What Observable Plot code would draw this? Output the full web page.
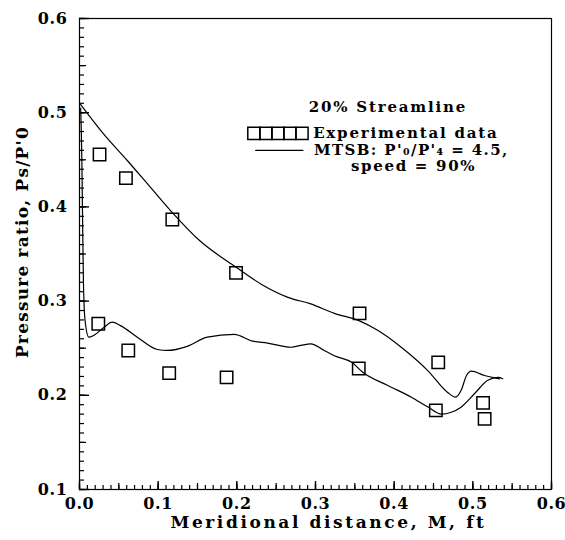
<!DOCTYPE html>
<html>
<head>
<meta charset="utf-8">
<script src="https://cdn.jsdelivr.net/npm/d3@7"></script>
<script src="https://cdn.jsdelivr.net/npm/@observablehq/plot@0.6"></script>
<style>
  html, body { margin: 0; padding: 0; background: #fff; }
  svg text { font-family: "DejaVu Serif", serif; font-weight: bold; }
</style>
</head>
<body>
<div id="chart"></div>
<script>
// Experimental data (squares)
const expX = [0.0255, 0.059, 0.118, 0.199, 0.356, 0.456, 0.513,
              0.0239, 0.062, 0.114, 0.187, 0.355, 0.453, 0.515];
const expY = [0.4556, 0.4305, 0.3866, 0.330, 0.287, 0.235, 0.192,
              0.276, 0.2476, 0.2235, 0.219, 0.2285, 0.184, 0.175];

// MTSB computed curve: upper branch
const upX = [0.001, 0.03, 0.061, 0.09, 0.118, 0.153, 0.199, 0.231, 0.265, 0.294, 0.324, 0.356,
             0.379, 0.409, 0.443, 0.468, 0.478, 0.485, 0.492, 0.498, 0.515, 0.534];
const upY = [0.509, 0.478, 0.449, 0.421, 0.394, 0.364, 0.336, 0.318, 0.304, 0.297, 0.287, 0.279,
             0.269, 0.251, 0.226, 0.203, 0.198, 0.205, 0.221, 0.2256, 0.221, 0.2175];

// MTSB computed curve: lower branch
const loX = [0.0015, 0.003, 0.004, 0.005, 0.007, 0.0118, 0.018, 0.031, 0.0416, 0.052, 0.0735, 0.099,
             0.1116, 0.137, 0.1626, 0.1966, 0.220, 0.239, 0.269, 0.2815, 0.294, 0.311, 0.324, 0.346,
             0.360, 0.392, 0.422, 0.443, 0.460, 0.4726, 0.485, 0.502, 0.519, 0.532, 0.538];
const loY = [0.505, 0.45, 0.38, 0.32, 0.28, 0.2617, 0.2635, 0.272, 0.2776, 0.274, 0.2617, 0.2486,
             0.2476, 0.252, 0.2617, 0.2646, 0.2575, 0.2554, 0.251, 0.253, 0.2546, 0.2476, 0.242, 0.235,
             0.2245, 0.2104, 0.198, 0.1875, 0.180, 0.182, 0.1874, 0.2016, 0.216, 0.219, 0.2175];

// Axis ticks and labels
const xMajor = [0, 0.1, 0.2, 0.3, 0.4, 0.5, 0.6];
const yMajor = [0.1, 0.2, 0.3, 0.4, 0.5, 0.6];
const xMinor = d3.range(0, 61).map(i => i / 100);
const yMinor = d3.range(10, 61).map(i => i / 100);
const xMid = d3.range(0, 13).map(i => i * 0.05);
const yMid = d3.range(2, 13).map(i => i * 0.05);
const xTitle = "Meridional distance, M, ft";
const yTitle = "Pressure ratio, Ps/P'0";

// Legend texts
const legendTitle = "20% Streamline";
const legendExp = "Experimental data";
const legendModel1 = "MTSB: P'\u2080/P'\u2084 = 4.5,";
const legendModel2 = "speed = 90%";
const legendSquaresX = [0.2217, 0.237, 0.2522, 0.2675, 0.2828];

const exp = expX.map((x, i) => ({x, y: expY[i]}));
const up = upX.map((x, i) => ({x, y: upY[i]}));
const lo = loX.map((x, i) => ({x, y: loY[i]}));

const fmt = d3.format(".1f");

const W = 565, H = 540, ML = 79, MR = 14, MT = 18, MB = 51;
const legendFont = {fontSize: 15, fontWeight: "bold"};

const chart = Plot.plot({
  width: W,
  height: H,
  marginLeft: ML,
  marginRight: MR,
  marginTop: MT,
  marginBottom: MB,
  style: {fontFamily: "DejaVu Serif", fontWeight: "bold", fontSize: "16px", color: "#000", background: "#fff"},
  x: {domain: [0, 0.6]},
  y: {domain: [0.1, 0.6]},
  marks: [
    Plot.frame({stroke: "#000", strokeWidth: 1.2}),
    // inward ticks (negative tick size points into the frame)
    Plot.axisX(xMinor, {tickSize: -4, text: null, label: null, strokeWidth: 1.2}),
    Plot.axisX(xMid, {tickSize: -6, text: null, label: null, strokeWidth: 1.2}),
    Plot.axisX(xMajor, {tickSize: -8, tickPadding: 16, tickFormat: fmt, label: null, fontSize: 16, fontWeight: "bold", strokeWidth: 1.4}),
    Plot.axisY(yMinor, {tickSize: -5, text: null, label: null, strokeWidth: 1.2}),
    Plot.axisY(yMid, {tickSize: -7, text: null, label: null, strokeWidth: 1.2}),
    Plot.axisY(yMajor, {tickSize: -10, tickPadding: 22, tickFormat: fmt, label: null, fontSize: 16, fontWeight: "bold", strokeWidth: 1.4}),
    Plot.text([xTitle], {frameAnchor: "bottom", dy: 38, dx: 13, text: d => d, textAnchor: "middle", fontSize: 17, fontWeight: "bold"}),
    Plot.text([yTitle], {frameAnchor: "left", dx: -57, dy: -12, rotate: -90, text: d => d, textAnchor: "middle", fontSize: 17, fontWeight: "bold"}),
    // curves
    Plot.line(up, {x: "x", y: "y", curve: "monotone-x", stroke: "#000", strokeWidth: 1.2}),
    Plot.line(lo, {x: "x", y: "y", curve: "monotone-x", stroke: "#000", strokeWidth: 1.2}),
    // experimental squares
    Plot.dot(exp, {x: "x", y: "y", symbol: "square", r: 7, stroke: "#000", strokeWidth: 1.5, fill: "none"}),
    // legend
    Plot.text([legendTitle], {x: [0.392], y: [0.5055], text: d => d, ...legendFont}),
    Plot.dot(legendSquaresX, {x: d => d, y: () => 0.478, symbol: "square", r: 6.9, stroke: "#000", strokeWidth: 1.5, fill: "none"}),
    Plot.text([legendExp], {x: [0.297], y: [0.478], text: d => d, textAnchor: "start", ...legendFont}),
    Plot.line([{x: 0.224, y: 0.46}, {x: 0.284, y: 0.46}], {x: "x", y: "y", stroke: "#000", strokeWidth: 1.2}),
    Plot.text([legendModel1], {x: [0.298], y: [0.46], text: d => d, textAnchor: "start", ...legendFont}),
    Plot.text([legendModel2], {x: [0.345], y: [0.443], text: d => d, textAnchor: "start", ...legendFont})
  ]
});

// letter spacing to mimic the wide typewriter-like face of the original
const spacing = new Map([
  [xTitle, 2.6], [yTitle, 1.2],
  [legendTitle, 1.8], [legendExp, 1.8], [legendModel1, 1.4], [legendModel2, 1.7]
]);
const tickLabels = new Set([...xMajor, ...yMajor].map(fmt));
d3.select(chart).selectAll("text").each(function() {
  const t = this.textContent;
  const s = spacing.has(t) ? spacing.get(t) : (tickLabels.has(t) ? 0.6 : 0);
  if (s) this.setAttribute("letter-spacing", s);
});
document.getElementById("chart").appendChild(chart);
</script>
</body>
</html>
